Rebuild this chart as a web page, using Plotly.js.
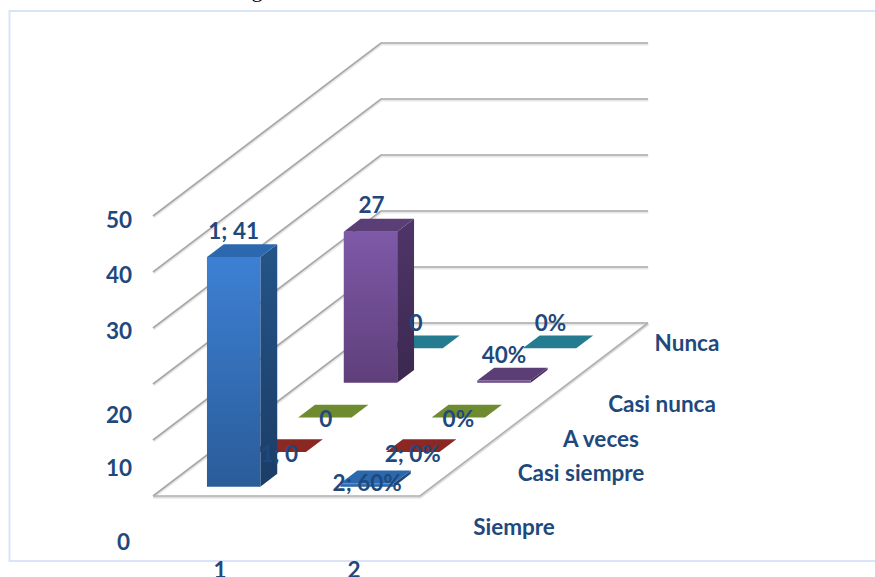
<!DOCTYPE html>
<html>
<head>
<meta charset="utf-8">
<script src="https://cdn.plot.ly/plotly-3.0.0.min.js"></script>
<style>html,body{margin:0;padding:0;background:#fff;overflow:hidden}#chart{width:875px;height:577px}</style>
</head>
<body>
<div id="chart"></div>
<script>
// Survey answers per question, one array per response option.
const categories = ["1", "2"];
const seriesNames = ["Siempre", "Casi siempre", "A veces", "Casi nunca", "Nunca"];
const siempre = [41, 0.6];
const casiSiempre = [0, 0];
const aVeces = [0, 0];
const casiNunca = [27, 0.4];
const nunca = [0, 0];
const valueTicks = [0, 10, 20, 30, 40, 50];

const siempreLabels = ["1; 41", "2; 60%"];
const casiSiempreLabels = ["1; 0", "2; 0%"];
const aVecesLabels = ["0", "0%"];
const casiNuncaLabels = ["27", "40%"];
const nuncaLabels = ["0", "0%"];

const seriesValues = [siempre, casiSiempre, aVeces, casiNunca, nunca];
const seriesLabels = [siempreLabels, casiSiempreLabels, aVecesLabels, casiNuncaLabels, nuncaLabels];

// Oblique projection of (category, depth, value) onto the flat scene axes.
const ORIGIN = {x: 153, y: 496};
const CAT_STEP = 133.5, DEPTH_DX = 45.6, DEPTH_DY = 34.6, UNIT = 5.6;
const project = (c, d, v) => [ORIGIN.x + CAT_STEP * c + DEPTH_DX * d, ORIGIN.y - DEPTH_DY * d - UNIT * v];

const BAR_START = 0.312, BAR_WIDTH = 0.40, DEPTH_START = 0.27, BAR_DEPTH = 0.37;

// Gradients run from the base of a face up to its top.
const palette = [
  {front: ["#2a5c99", "#3d80d3"], top: "#2b68ad", side: ["#1b3d66", "#255488"]},
  {front: ["#7f2420", "#9a2e29"], top: "#8c2823", side: ["#5e1a17", "#74211d"]},
  {front: ["#64802c", "#7f9c38"], top: "#6f8b30", side: ["#4c6021", "#5e7629"]},
  {front: ["#5f3f7a", "#7e59a8"], top: "#5c3e77", side: ["#3b2950", "#4f3568"]},
  {front: ["#237587", "#2e8ba3"], top: "#257b90", side: ["#195362", "#1f6577"]}
];

const traces = [];
const polygon = (pts, fill) => {
  const t = {
    type: "scatter", mode: "lines", hoverinfo: "skip", showlegend: false,
    x: pts.concat([pts[0]]).map(p => p[0]),
    y: pts.concat([pts[0]]).map(p => p[1]),
    fill: "toself", line: {width: 0, color: "rgba(0,0,0,0)"}
  };
  if (Array.isArray(fill)) {
    t.fillgradient = {type: "vertical", colorscale: [[0, fill[0]], [1, fill[1]]]};
  } else {
    t.fillcolor = fill;
  }
  traces.push(t);
};
const polyline = (pts, color, width) => traces.push({
  type: "scatter", mode: "lines", hoverinfo: "skip", showlegend: false,
  x: pts.map(p => p[0]), y: pts.map(p => p[1]),
  line: {color, width}
});
const textMark = (x, y, text, font, position) => traces.push({
  type: "scatter", mode: "text", hoverinfo: "skip", showlegend: false,
  x: [x], y: [y], text: [text], textposition: position || "middle center", textfont: font,
  cliponaxis: true
});

// Walls: each tick gives a diagonal on the side wall and a rule on the back wall.
const DEPTH_MAX = seriesNames.length, CAT_MAX = categories.length;
valueTicks.forEach(v => {
  const path = [project(0, 0, v), project(0, DEPTH_MAX, v), project(CAT_MAX, DEPTH_MAX, v)];
  polyline(path.map(p => [p[0] + 0.5, p[1] + 1.5]), "#e6e6e6", 2);
  polyline(path, "#a8a8a8", 1.7);
});

// Floor outline.
const floorEdge = [project(0, 0, 0), project(CAT_MAX, 0, 0), project(CAT_MAX, DEPTH_MAX, 0)];
polyline(floorEdge.map(p => [p[0] + 0.5, p[1] + 1.5]), "#dedede", 2);
polyline(floorEdge, "#b0b0b0", 1.7);

// Bars, back row first so nearer boxes overlap the farther ones.
for (let s = seriesNames.length - 1; s >= 0; s--) {
  categories.forEach((_, c) => {
    const v = seriesValues[s][c];
    const c0 = c + BAR_START, c1 = c0 + BAR_WIDTH;
    const d0 = s + DEPTH_START, d1 = d0 + BAR_DEPTH;
    const style = palette[s];
    if (v > 0) {
      polygon([project(c1, d0, 0), project(c1, d1, 0), project(c1, d1, v), project(c1, d0, v)], style.side);
      polygon([project(c0, d0, 0), project(c1, d0, 0), project(c1, d0, v), project(c0, d0, v)], style.front);
    }
    polygon([project(c0, d0, v), project(c1, d0, v), project(c1, d1, v), project(c0, d1, v)], style.top);
  });
}

const labelFont = {family: "Lato, Carlito, sans-serif", size: 22.5, color: "#1f497d", weight: 700};

// Data labels sit where the layout engine left them, offset from each box's front centre.
const labelOffsets = [
  [[0, -24], [0, 2]],
  [[0, 4], [0, 4]],
  [[1, 4], [0, 4]],
  [[1, -24], [0, -23]],
  [[0, -23], [1, -23]]
];
seriesLabels.forEach((row, s) => row.forEach((text, c) => {
  const v = seriesValues[s][c];
  const anchor = project(c + BAR_START + BAR_WIDTH / 2, s + DEPTH_START, v);
  const off = labelOffsets[s][c];
  textMark(anchor[0] + off[0], anchor[1] + off[1], text, labelFont);
}));

// Axis captions in the places the layout gave them.
const valueTickY = [544, 470, 417, 333, 277, 222];
valueTicks.forEach((v, i) => textMark(i === 0 ? 130 : 132, valueTickY[i], String(v), labelFont, "middle left"));
const categoryLabelX = [220, 354];
categories.forEach((c, i) => textMark(categoryLabelX[i], 572, c, labelFont));
const seriesLabelPos = [[514, 529], [581, 475], [601, 441], [662, 406], [687, 345]];
seriesNames.forEach((n, i) => textMark(seriesLabelPos[i][0], seriesLabelPos[i][1], n, labelFont));

// Tail of the caption line that runs above the chart frame.
textMark(257, -9, "g", {family: "Liberation Serif, serif", size: 22, color: "#000"});

const layout = {
  width: 875, height: 577,
  margin: {l: 0, r: 0, t: 0, b: 0, pad: 0},
  paper_bgcolor: "#fff", plot_bgcolor: "#fff",
  showlegend: false,
  xaxis: {range: [0, 875], visible: false, fixedrange: true},
  yaxis: {range: [577, 0], visible: false, fixedrange: true},
  shapes: [{
    type: "rect", xref: "x", yref: "y", x0: 9.5, y0: 11, x1: 880, y1: 561,
    line: {color: "#d9e5f6", width: 2}, fillcolor: "rgba(0,0,0,0)", layer: "below"
  }]
};
Plotly.newPlot("chart", traces, layout, {displayModeBar: false, staticPlot: true});
</script>
</body>
</html>
